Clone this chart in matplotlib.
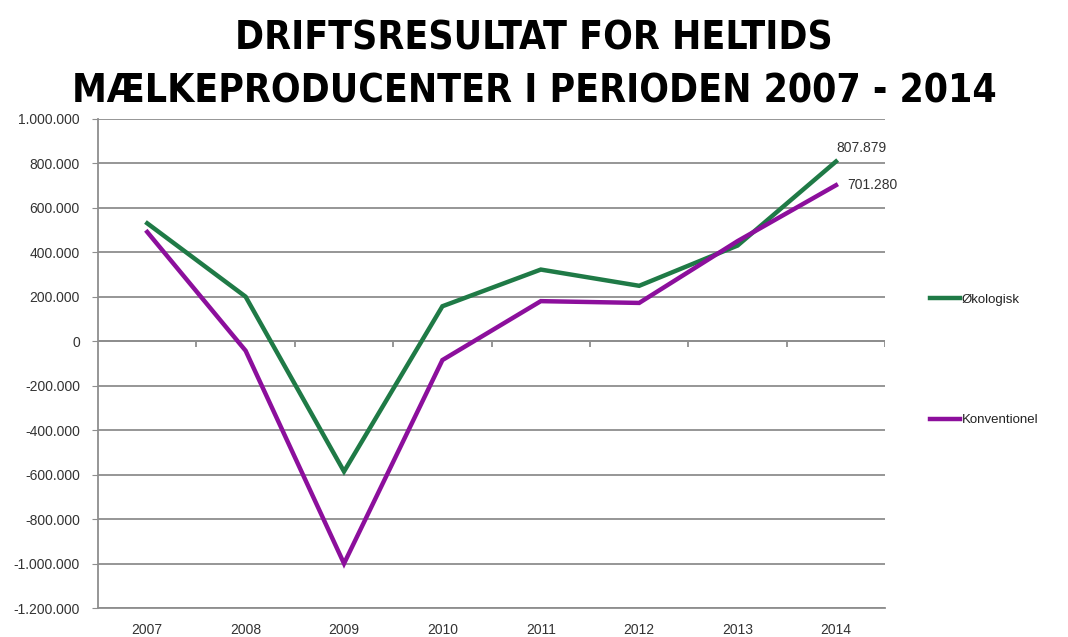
import matplotlib.pyplot as plt
from matplotlib.ticker import FuncFormatter

plt.rcParams['font.family'] = ['Liberation Sans', 'DejaVu Sans']

# data
years = ['2007', '2008', '2009', '2010', '2011', '2012', '2013', '2014']
okologisk = [530000, 200000, -586000, 157000, 322000, 249000, 430000, 807879]
konventionel = [491000, -43000, -1000000, -85000, 180000, 172000, 450000, 701280]
y_ticks = list(range(-1200000, 1000001, 200000))

green = '#1f7a46'
purple = '#8c0f9c'

def dk(v, pos=None):
    s = f'{abs(int(v)):,}'.replace(',', '.')
    return ('-' if v < 0 else '') + s

fig = plt.figure(figsize=(10.68, 6.37), dpi=100)
ax = fig.add_axes([0.0918, 0.0455, 0.737, 0.768])

x = list(range(len(years)))
ax.plot(x, okologisk, color=green, lw=3.2, label='Økologisk', solid_joinstyle='miter')
ax.plot(x, konventionel, color=purple, lw=3.2, label='Konventionel', solid_joinstyle='miter')

ax.set_xlim(-0.5, len(years) - 0.5)
ax.set_ylim(y_ticks[0], y_ticks[-1])
ax.set_yticks(y_ticks)
ax.yaxis.set_major_formatter(FuncFormatter(dk))
ax.set_xticks(x)
ax.set_xticklabels(years)
ax.grid(axis='y', color='#8e8e8e', lw=1.3)
ax.set_axisbelow(True)

for s in ['top', 'right']:
    ax.spines[s].set_visible(False)
for s in ['left', 'bottom']:
    ax.spines[s].set_color('#8e8e8e')
    ax.spines[s].set_linewidth(1.3)

ax.tick_params(axis='y', length=4, color='#8e8e8e', pad=9, labelsize=10, labelcolor='#333333')
ax.tick_params(axis='x', length=0, pad=11, labelsize=10, labelcolor='#333333')

# category axis crosses at zero, with tick marks between categories
ax.axhline(0, color='#8e8e8e', lw=1.3, zorder=1)
bounds = [i + 0.5 for i in range(len(years))]
ax.vlines(bounds, -25000, 0, color='#8e8e8e', lw=1.3, zorder=1)

# value labels for 2014
ax.annotate(dk(okologisk[-1]), (x[-1], okologisk[-1]), xytext=(0, 5),
            textcoords='offset points', ha='left', va='bottom', fontsize=10, color='#333333')
ax.annotate(dk(konventionel[-1]), (x[-1], konventionel[-1]), xytext=(8, 0),
            textcoords='offset points', ha='left', va='center', fontsize=10, color='#333333')

ax.legend(loc='center left', bbox_to_anchor=(1.057, 0.507), frameon=False,
          fontsize=9.5, handlelength=2.3, handletextpad=0.1, borderpad=0,
          borderaxespad=0, labelspacing=8.2, labelcolor='#222222')

fig.text(0.5, 0.940, 'DRIFTSRESULTAT FOR HELTIDS', ha='center', va='center',
         fontsize=28, fontweight='bold', family='DejaVu Sans', fontstretch='condensed')
fig.text(0.5, 0.856, 'MÆLKEPRODUCENTER I PERIODEN 2007 - 2014', ha='center', va='center',
         fontsize=28, fontweight='bold', family='DejaVu Sans', fontstretch='condensed')

fig.savefig('out.png', dpi=100)
